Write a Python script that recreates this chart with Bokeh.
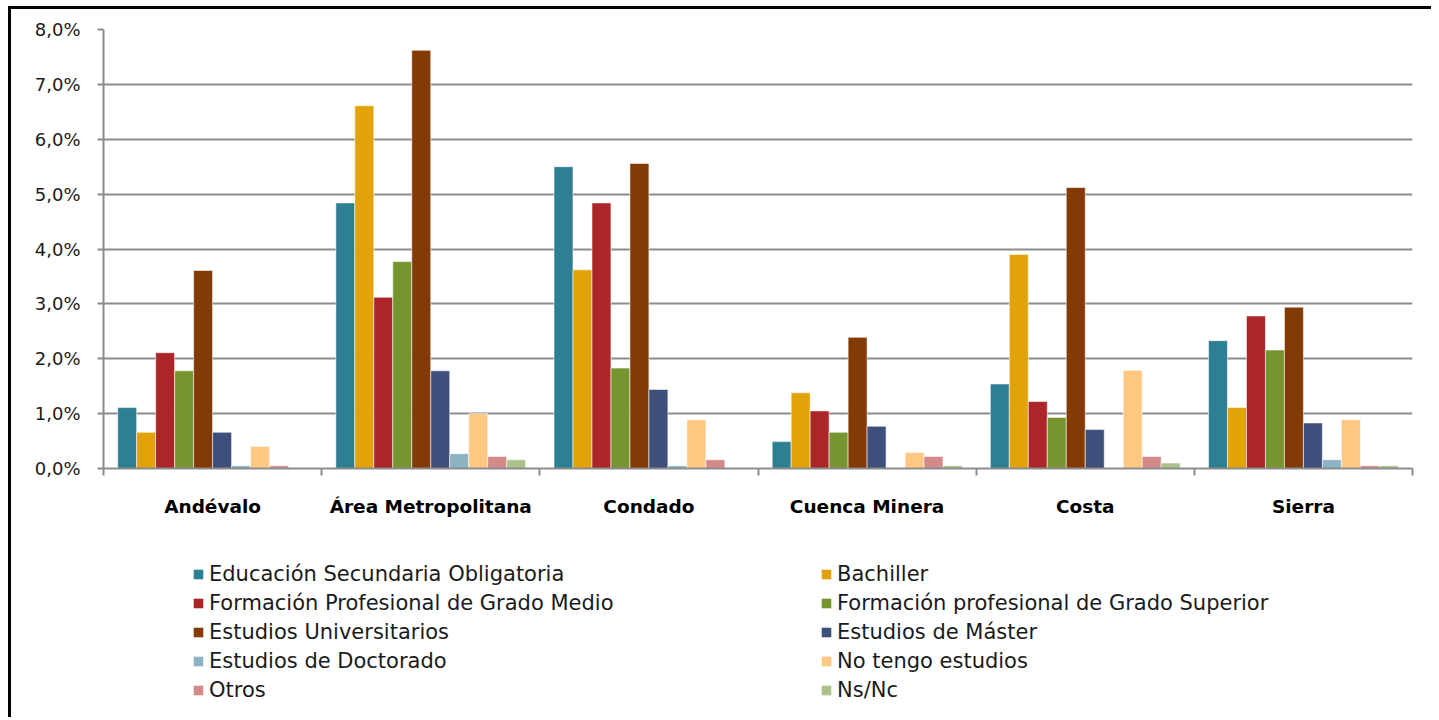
from bokeh.plotting import figure
from bokeh.layouts import column
from bokeh.models import (ColumnDataSource, Legend, LegendItem, FixedTicker,
                          CustomJSTickFormatter, Range1d)
from bokeh.embed import file_html
from bokeh.resources import INLINE

regions = ["Andévalo", "Área Metropolitana", "Condado", "Cuenca Minera", "Costa", "Sierra"]
series_names = ["Educación Secundaria Obligatoria", "Bachiller",
                "Formación Profesional de Grado Medio", "Formación profesional de Grado Superior",
                "Estudios Universitarios", "Estudios de Máster",
                "Estudios de Doctorado", "No tengo estudios",
                "Otros", "Ns/Nc"]
eso = [1.11, 4.84, 5.50, 0.49, 1.54, 2.33]
bachiller = [0.66, 6.61, 3.62, 1.38, 3.90, 1.11]
fp_medio = [2.11, 3.12, 4.84, 1.05, 1.22, 2.78]
fp_superior = [1.78, 3.77, 1.83, 0.66, 0.93, 2.16]
universitarios = [3.61, 7.62, 5.56, 2.39, 5.12, 2.94]
master = [0.66, 1.78, 1.44, 0.77, 0.71, 0.83]
doctorado = [0.05, 0.27, 0.05, 0.0, 0.0, 0.16]
sin_estudios = [0.40, 1.00, 0.89, 0.29, 1.79, 0.89]
otros = [0.05, 0.22, 0.16, 0.22, 0.22, 0.05]
ns_nc = [0.0, 0.16, 0.0, 0.05, 0.10, 0.05]
y_ticks = [0, 1, 2, 3, 4, 5, 6, 7, 8]

all_values = [eso, bachiller, fp_medio, fp_superior, universitarios, master,
              doctorado, sin_estudios, otros, ns_nc]
colors = ["#2E7F93", "#E1A20A", "#AC2629", "#77952F", "#833A05", "#3E4F7B",
          "#8CB3C3", "#FEC882", "#D38A8A", "#ABC38B"]

FONT = "DejaVu Sans"
bar_w = 0.087
margin = (1 - bar_w * len(all_values)) / 2

W = 1420
p = figure(width=W, height=519, output_backend="svg", toolbar_location=None,
           x_range=Range1d(0, len(regions)), y_range=Range1d(0, 8),
           min_border_left=92, min_border_top=20, min_border_right=19,
           min_border_bottom=60)
p.outline_line_color = None
p.background_fill_color = "white"
p.border_fill_color = "white"

for i, (name, vals, col) in enumerate(zip(series_names, all_values, colors)):
    xs = [k + margin + bar_w * (i + 0.5) for k in range(len(regions))]
    src = ColumnDataSource(dict(x=xs, top=vals))
    p.vbar(x="x", top="top", width=bar_w, source=src, fill_color=col,
           line_color="white", line_width=0.8, line_alpha=0.7)

# x axis
p.xaxis.ticker = FixedTicker(ticks=[k + 0.5 for k in range(len(regions))],
                             minor_ticks=list(range(len(regions) + 1)))
p.xaxis.major_label_overrides = {k + 0.5: reg for k, reg in enumerate(regions)}
p.xaxis.major_tick_out = 0
p.xaxis.major_tick_in = 0
p.xaxis.minor_tick_out = 7
p.xaxis.minor_tick_in = 0
p.xaxis.minor_tick_line_color = "#8c8c8c"
p.xaxis.minor_tick_line_width = 2
p.xaxis.axis_line_color = "#8c8c8c"
p.xaxis.axis_line_width = 2
p.xaxis.major_label_text_font = FONT
p.xaxis.major_label_text_font_style = "bold"
p.xaxis.major_label_text_font_size = "18.5px"
p.xaxis.major_label_text_color = "#000000"
p.xaxis.major_label_standoff = 20
p.xgrid.grid_line_color = None

# y axis
p.yaxis.ticker = FixedTicker(ticks=y_ticks, minor_ticks=[])
p.yaxis.formatter = CustomJSTickFormatter(
    code="return tick.toFixed(1).replace('.', ',') + '%';")
p.yaxis.major_tick_out = 6
p.yaxis.major_tick_in = 0
p.yaxis.major_tick_line_color = "#8c8c8c"
p.yaxis.major_tick_line_width = 2
p.yaxis.axis_line_color = "#8c8c8c"
p.yaxis.axis_line_width = 2
p.yaxis.major_label_text_font = FONT
p.yaxis.major_label_text_font_size = "18px"
p.yaxis.major_label_text_color = "#1a1a1a"
p.yaxis.major_label_standoff = 17
p.ygrid.grid_line_color = "#8c8c8c"
p.ygrid.grid_line_width = 2

# legend panel (separate figure so the legend is not clipped by the plot frame)
q = figure(width=W, height=189, output_backend="svg", toolbar_location=None,
           x_range=Range1d(0, 1), y_range=Range1d(0, 1),
           x_axis_location=None, y_axis_location=None,
           min_border_left=0, min_border_right=0, min_border_top=0, min_border_bottom=0)
q.outline_line_color = None
q.xgrid.grid_line_color = None
q.ygrid.grid_line_color = None
items = []
nan = float("nan")
for name, col in zip(series_names, colors):
    r = q.vbar(x=[nan], top=[nan], width=0.1, fill_color=col, line_color=None)
    items.append(LegendItem(label=name, renderers=[r]))

legend = Legend(items=items, ncols=2, orientation="horizontal", location=(89, 15))
legend.label_text_font = FONT
legend.label_text_font_size = "21px"
legend.label_text_color = "#1a1a1a"
legend.glyph_width = 12
legend.glyph_height = 12
legend.label_standoff = 5
legend.label_width = 607
legend.label_height = 25
legend.spacing = 4
legend.padding = 0
legend.margin = 0
legend.border_line_color = None
legend.background_fill_alpha = 0
q.add_layout(legend, "center")

layout = column(p, q, spacing=0,
                styles={"margin-left": "8px", "margin-top": "6px",
                        "border-left": "3px solid black",
                        "border-top": "3px solid black"})

open("out.html", "w").write(file_html(layout, INLINE))
